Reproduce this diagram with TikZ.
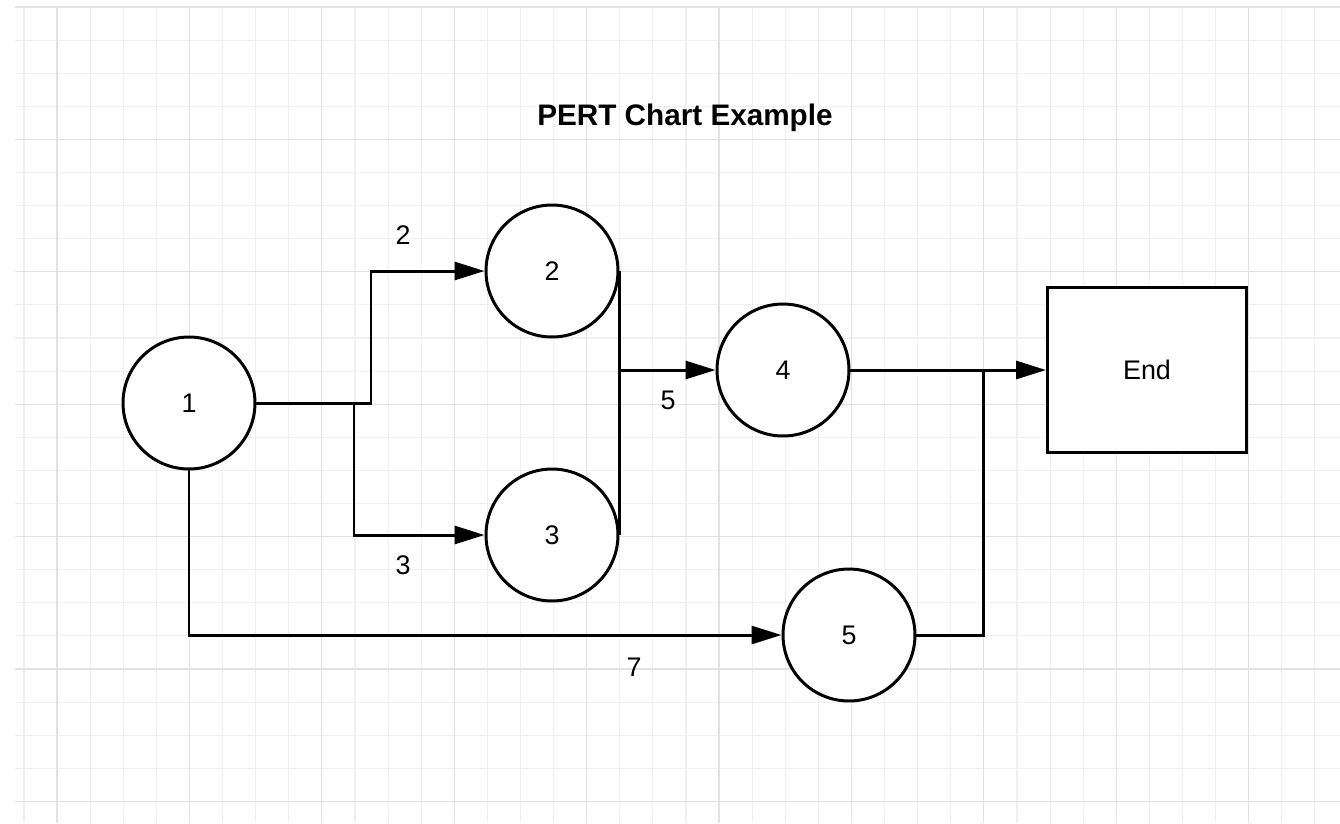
\documentclass[tikz,border=0pt]{standalone}
\usepackage{fontspec}
\setmainfont{Liberation Sans}
\usepackage{tikz}
\usetikzlibrary{arrows.meta}
\usepackage{xcolor}
\definecolor{gridminor}{RGB}{240,240,240}
\definecolor{gridmajor}{RGB}{226,226,226}

\tikzset{
  event/.style={circle, draw, fill=white, line width=1.7pt, minimum size=2.64cm, inner sep=0pt, font=\fontsize{15.3}{17}\selectfont},
  finish/.style={rectangle, draw, fill=white, line width=1.7pt, minimum width=3.98cm, minimum height=3.3cm, font=\fontsize{15.3}{17}\selectfont},
  dur/.style={font=\fontsize{15.3}{17}\selectfont}
}

\begin{document}
\begin{tikzpicture}[x=0.02cm, y=-0.02cm, >={Triangle[length=0.6cm, width=0.36cm]}, line width=1.7pt]
    \useasboundingbox (0,0) rectangle (1340,823);
    \foreach \i in {0,...,39}
      \draw[gridminor, line width=0.6pt] ({24+33.1*\i}, 7) -- ({24+33.1*\i}, 823);
    \foreach \j in {0,...,24}
      \draw[gridminor, line width=0.6pt] (15, {7+33.1*\j}) -- (1340, {7+33.1*\j});
    \foreach \i in {0,...,9}
      \draw[gridmajor, line width=0.6pt] ({57+132.4*\i}, 7) -- ({57+132.4*\i}, 823);
    \foreach \j in {0,...,6}
      \draw[gridmajor, line width=0.6pt] (15, {7+132.4*\j}) -- (1340, {7+132.4*\j});

    \node[font=\bfseries\fontsize{16.9}{19}\selectfont] (title) at (685, 118) {PERT Chart Example};

    \node[event] (n1) at (189, 403) {1};
    \node[event] (n2) at (552, 271) {2};
    \node[event] (n3) at (552, 535) {3};
    \node[event] (n4) at (783, 370) {4};
    \node[event] (n5) at (849, 635) {5};
    \node[finish] (end) at (1147, 370) {End};

    \coordinate (split2) at (371, 403);
    \coordinate (split3) at (354, 403);
    \coordinate (join4) at (618, 370);
    \coordinate (merge) at (983, 370);

    \draw[->] (n1.east) -- (split2) |- (n2.west);
    \draw[->] (split3) |- (n3.west);
    \draw (n2.east) -- (n3.east);
    \draw[->] (join4) -- (n4.west);
    \draw[->] (n4.east) -- (end.west);
    \draw (n5.east) -| (merge);
    \draw[->] (n1.south) |- (n5.west);

    \node[dur] (d12) at (403, 235) {2};
    \node[dur] (d13) at (403, 565) {3};
    \node[dur] (d4) at (668, 400) {5};
    \node[dur] (d15) at (634, 667) {7};
  \end{tikzpicture}
\end{document}
